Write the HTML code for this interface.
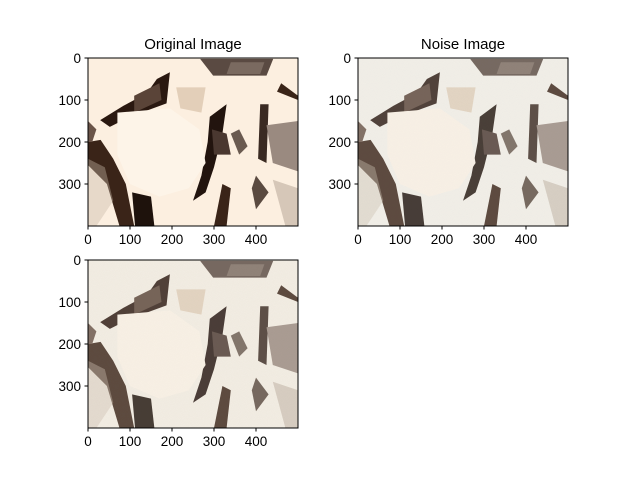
<!DOCTYPE html>
<html><head><meta charset="utf-8"><style>
body{margin:0;background:#fff}
svg{display:block;font-family:"Liberation Sans","DejaVu Sans",sans-serif}
</style></head><body>
<svg id="fig" width="640" height="480" viewBox="0 0 640 480" xmlns="http://www.w3.org/2000/svg">
<defs>
<filter id="noise" x="0" y="0" width="1" height="1">
<feTurbulence type="fractalNoise" baseFrequency="0.9" numOctaves="1" seed="3" result="t"/>
<feColorMatrix in="t" type="matrix" values="0 0 0 0 0.6  0 0 0 0 0.6  0 0 0 0 0.6  0 0 0 0.2 0" result="n"/>
<feComposite in="n" in2="SourceGraphic" operator="in" result="nm"/>
<feBlend in="SourceGraphic" in2="nm" mode="multiply"/>
</filter>
<g id="rocks">
<polygon points="267,2 441,2 425,42 298,42" fill="#5a4a42"/>
<polygon points="340,10 420,10 410,38 330,38" fill="#7a6a60"/>
<polygon points="164,50 195,34 187,108 100,140 52,164 29,148 84,114 140,84" fill="#2a1810"/>
<polygon points="110,90 170,60 175,100 110,130" fill="#5a4438"/>
<polygon points="0,200 30,195 60,240 90,300 110,400 75,400 45,300 0,255" fill="#3a2418"/>
<polygon points="0,150 20,170 10,200 0,200" fill="#6a5448"/>
<polygon points="105,320 150,330 158,400 112,400" fill="#1e120c"/>
<polygon points="290,140 330,110 320,180 300,260 280,320 250,340 270,280 285,200" fill="#22140e"/>
<polygon points="295,170 330,180 340,230 300,230" fill="#4a3830"/>
<polygon points="410,110 430,110 425,250 405,240" fill="#3a2a22"/>
<polygon points="425,160 500,150 500,270 440,250" fill="#9a8a80"/>
<polygon points="340,180 360,170 380,210 360,230" fill="#6a5a50"/>
<polygon points="460,60 500,90 500,100 450,80" fill="#3a2418"/>
<polygon points="320,300 340,310 330,400 300,400" fill="#3a2418"/>
<polygon points="400,280 430,320 400,360 390,310" fill="#5a4a40"/>
<polygon points="210,70 280,70 270,130 220,120" fill="#d8c2a8" opacity="0.7"/>
<polygon points="70,130 195,120 265,170 280,250 240,310 170,330 100,300 70,230" fill="#fdf4e8"/>
<polygon points="440,290 500,310 500,400 470,400" fill="#b0a090" opacity="0.5"/>
<polygon points="0,240 40,260 60,340 20,400 0,400" fill="#c8b8a8" opacity="0.4"/>
</g>
</defs>
<g>
<svg x="88" y="58" width="210" height="168" viewBox="0 0 500 400" preserveAspectRatio="none">
<rect width="500" height="400" fill="#fcefe0"/><use href="#rocks"/></svg>
</g>
<g>
<svg x="358" y="58" width="210" height="168" viewBox="0 0 500 400" preserveAspectRatio="none">
<g filter="url(#noise)"><rect width="500" height="400" fill="#f4f1ea"/><use href="#rocks" opacity="0.8"/></g></svg>
</g>
<g>
<svg x="88" y="260" width="210" height="168" viewBox="0 0 500 400" preserveAspectRatio="none">
<g filter="url(#noise)"><rect width="500" height="400" fill="#f5efe5"/><use href="#rocks" opacity="0.8"/></g></svg>
</g>
<text x="193" y="49" text-anchor="middle" font-size="15">Original Image</text>
<text x="463" y="49" text-anchor="middle" font-size="15">Noise Image</text>
<g id="axes"></g>
</svg>
<script>
const xTicks=[0,100,200,300,400];
const yTicks=[0,100,200,300];
const imgW=500, imgH=400;
const panels=[{x:88,y:58},{x:358,y:58},{x:88,y:260}];
const NS="http://www.w3.org/2000/svg";
const g=document.getElementById('axes');
function mk(t,a){const e=document.createElementNS(NS,t);for(const k in a)e.setAttribute(k,a[k]);g.appendChild(e);return e;}
const W=210,H=168;
panels.forEach((p,i)=>{
  const sx=v=>p.x+v/imgW*W, sy=v=>p.y+v/imgH*H;
  const f=mk('rect',{x:p.x,y:p.y,width:W,height:H,fill:'none',stroke:'#000','stroke-width':1});
  
  
  xTicks.forEach(v=>{
    const l=mk('line',{x1:sx(v),x2:sx(v),y1:p.y+H,y2:p.y+H+3.5,stroke:'#000'});
    
    
    const t=mk('text',{x:sx(v),y:p.y+H+18,'text-anchor':'middle','font-size':13.5});
    t.textContent=v;
    
    
  });
  yTicks.forEach(v=>{
    const l=mk('line',{x1:p.x-3.5,x2:p.x,y1:sy(v),y2:sy(v),stroke:'#000'});
    
    
    const t=mk('text',{x:p.x-7,y:sy(v)+5,'text-anchor':'end','font-size':13.5});
    t.textContent=v;
    
    
  });
});
</script>
</body></html>
